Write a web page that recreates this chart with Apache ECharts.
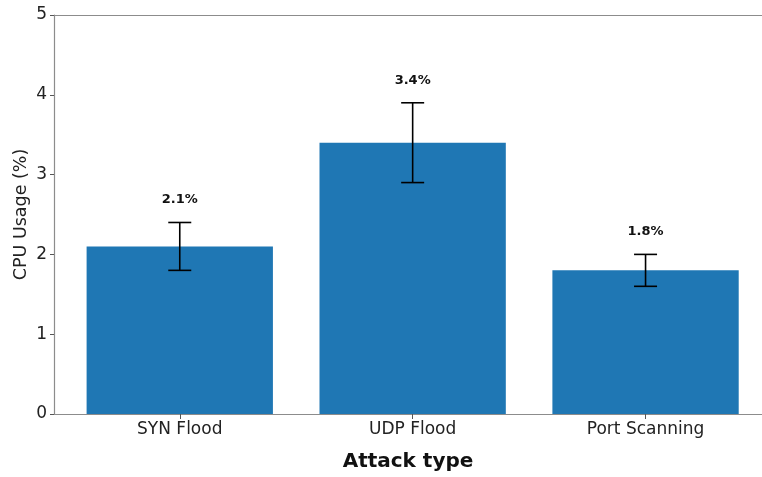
<!DOCTYPE html>
<html>
<head>
<meta charset="utf-8">
<script src="https://cdn.jsdelivr.net/npm/echarts@6/dist/echarts.min.js"></script>
<style>
  html, body { margin: 0; padding: 0; background: #fff; }
  #chart { width: 762px; height: 477px; }
</style>
</head>
<body>
<div id="chart"></div>
<script>
// Attack categories and measured CPU usage
const categories = ['SYN Flood', 'UDP Flood', 'Port Scanning'];
const cpuUsage = [2.1, 3.4, 1.8];
const cpuError = [0.3, 0.5, 0.2];
const yTicks = [0, 1, 2, 3, 4, 5];

const FONT = 'DejaVu Sans';
const BAR_COLOR = '#1f77b4';
const SPINE = '#8c8c8c';

const chart = echarts.init(document.getElementById('chart'), null, { renderer: 'canvas' });

const barData = cpuUsage.map((v, i) => [i, v, cpuError[i]]);

chart.setOption({
  animation: false,
  backgroundColor: '#ffffff',
  grid: { left: 54, right: 0, top: 15, bottom: 61, containLabel: false },
  xAxis: [{
    type: 'value',
    min: -0.54,
    max: 2.5,
    position: 'bottom',
    axisLine: { show: true, onZero: false, lineStyle: { color: SPINE, width: 1.2 } },
    axisTick: { show: true, customValues: [0, 1, 2], length: 5, lineStyle: { color: '#555' } },
    axisLabel: {
      customValues: [0, 1, 2],
      formatter: v => categories[Math.round(v)],
      fontFamily: FONT, fontSize: 17, color: '#222', margin: 7
    },
    splitLine: { show: false },
    name: 'Attack type',
    nameLocation: 'middle',
    nameMoveOverlap: false,
    nameGap: 38,
    nameTextStyle: { fontFamily: FONT, fontSize: 20, fontWeight: 'bold', color: '#111' }
  }, {
    type: 'value',
    min: -0.54,
    max: 2.5,
    position: 'top',
    axisLine: { show: true, onZero: false, lineStyle: { color: SPINE, width: 1.2 } },
    axisTick: { show: false },
    axisLabel: { show: false },
    splitLine: { show: false }
  }],
  yAxis: {
    type: 'value',
    min: yTicks[0],
    max: yTicks[yTicks.length - 1],
    interval: 1,
    axisLine: { show: true, onZero: false, lineStyle: { color: SPINE, width: 1.2 } },
    axisTick: { show: true, length: 4, lineStyle: { color: '#555' } },
    axisLabel: { fontFamily: FONT, fontSize: 17, color: '#222', margin: 7 },
    splitLine: { show: false },
    name: 'CPU Usage (%)',
    nameLocation: 'middle',
    nameMoveOverlap: false,
    nameGap: 24,
    nameTextStyle: { fontFamily: FONT, fontSize: 17.5, color: '#222' }
  },
  series: [{
    type: 'custom',
    xAxisIndex: 0,
    yAxisIndex: 0,
    clip: false,
    data: barData,
    encode: { x: 0, y: 1 },
    renderItem: function (params, api) {
      const x = api.value(0);
      const v = api.value(1);
      const e = api.value(2);
      const halfW = api.size([0.8, 0])[0] / 2;
      const top = api.coord([x, v]);
      const base = api.coord([x, 0]);
      const errHi = api.coord([x, v + e]);
      const errLo = api.coord([x, v - e]);
      const labelPos = api.coord([x, v + e + 0.2]);
      const cap = 11.5;
      const line = { stroke: '#000', lineWidth: 1.6 };
      return {
        type: 'group',
        children: [
          { type: 'rect', shape: { x: top[0] - halfW, y: top[1], width: halfW * 2, height: base[1] - top[1] }, style: { fill: BAR_COLOR } },
          { type: 'line', shape: { x1: errHi[0], y1: errHi[1], x2: errLo[0], y2: errLo[1] }, style: line },
          { type: 'line', shape: { x1: errHi[0] - cap, y1: errHi[1], x2: errHi[0] + cap, y2: errHi[1] }, style: line },
          { type: 'line', shape: { x1: errLo[0] - cap, y1: errLo[1], x2: errLo[0] + cap, y2: errLo[1] }, style: line },
          { type: 'text', x: labelPos[0], y: labelPos[1],
            style: { text: v.toFixed(1) + '%', fontFamily: FONT, fontSize: 13, fontWeight: 'bold', fill: '#111', align: 'center', verticalAlign: 'bottom' } }
        ]
      };
    }
  }]
});
</script>
</body>
</html>
